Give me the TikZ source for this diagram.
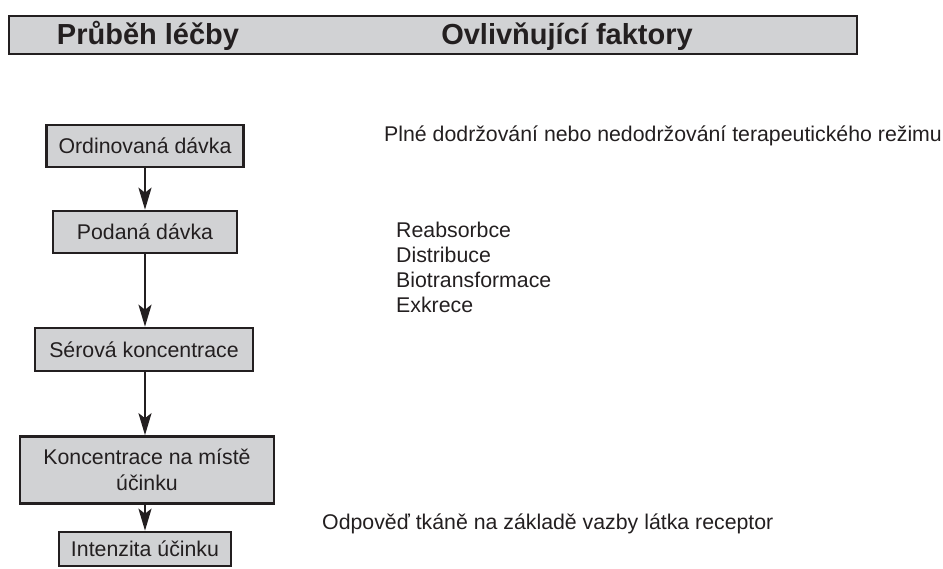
\documentclass[tikz,border=0pt]{standalone}
\usepackage{fontspec}
\setmainfont{Liberation Sans}
\usetikzlibrary{arrows.meta}
\definecolor{boxgray}{RGB}{209,210,212}
\definecolor{ink}{RGB}{35,31,32}
\begin{document}
\begin{tikzpicture}[x=1pt,y=-1pt,
  stepbox/.style={draw=ink, line width=2.6pt, fill=boxgray, inner sep=0pt, align=center,
    font=\fontsize{21.3}{26}\selectfont, text=ink},
  flow/.style={draw=ink, line width=2.4pt, -{Stealth[length=22pt,width=13pt,inset=5pt]}},
  factor/.style={inner sep=0pt, font=\fontsize{21.3}{25}\selectfont, text=ink, align=left},
  head/.style={font=\bfseries\fontsize{29}{32}\selectfont, text=ink, inner sep=0pt, anchor=base}]
\useasboundingbox (0,0) rectangle (943,568);
\node[draw=ink, line width=2.6pt, fill=boxgray, minimum width=848pt, minimum height=38pt, inner sep=0pt] (bar) at (433,35) {};
\node[head] (h1) at (148,44.5) {Průběh léčby};
\node[head] (h2) at (567,44.5) {Ovlivňující faktory};
\node[stepbox, minimum width=197pt, minimum height=42pt] (s1) at (145,146) {Ordinovaná dávka};
\node[stepbox, minimum width=184pt, minimum height=42pt] (s2) at (145,232) {Podaná dávka};
\node[stepbox, minimum width=218pt, minimum height=43pt] (s3) at (144,349.5) {Sérová koncentrace};
\node[stepbox, minimum width=254pt, minimum height=67pt] (s4) at (147,470) {Koncentrace na místě\\účinku};
\node[stepbox, minimum width=172pt, minimum height=34pt] (s5) at (145,549) {Intenzita účinku};
\draw[flow] (s1.south) -- (s2.north);
\draw[flow] (s2.south) -- (s2.south |- s3.north);
\draw[flow] (s2.south |- s3.south) -- (s2.south |- s4.north);
\draw[flow] (s5.north |- s4.south) -- (s5.north);
\node[factor, anchor=base west] (f1) at (384,141) {Plné dodržování nebo nedodržování terapeutického režimu};
\node[factor, anchor=west] (f2) at (396,267.5) {Reabsorbce\\Distribuce\\Biotransformace\\Exkrece};
\node[factor, anchor=base west] (f3) at (322,529) {Odpověď tkáně na základě vazby látka receptor};
\end{tikzpicture}
\end{document}
